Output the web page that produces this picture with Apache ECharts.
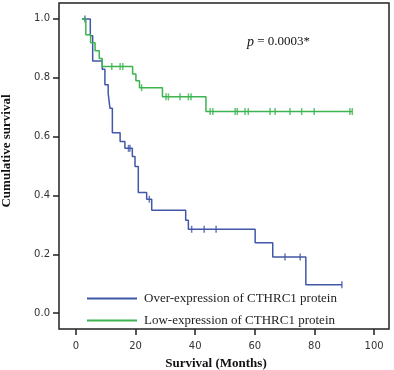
<!DOCTYPE html>
<html>
<head>
<meta charset="utf-8">
<script src="https://cdn.jsdelivr.net/npm/echarts@6/dist/echarts.min.js"></script>
<style>
  html, body { margin: 0; padding: 0; background: #fff; }
  #chart { width: 394px; height: 370px; }
</style>
</head>
<body>
<div id="chart"></div>
<script>
// Kaplan-Meier steps: [month, survival after the event]
var overSteps = [
  [2, 1.0], [4.8, 0.943], [5.6, 0.857], [8.8, 0.829], [9.7, 0.776],
  [10.8, 0.747], [11.4, 0.696], [12.2, 0.613], [14.8, 0.583], [16.4, 0.56],
  [18.9, 0.532], [19.8, 0.498], [20.9, 0.41], [23.7, 0.387], [25.4, 0.35],
  [36.8, 0.316], [37.7, 0.285], [60.1, 0.239], [66.0, 0.191], [77.1, 0.096],
  [89.2, 0.096]
];
var overCensored = [
  [3, 1.0], [17.6, 0.56], [18.1, 0.56], [24.6, 0.387], [38.8, 0.285],
  [43, 0.285], [47, 0.285], [70.1, 0.191], [75.2, 0.191], [89.2, 0.096]
];
var lowSteps = [
  [2, 1.0], [3.3, 0.946], [4.9, 0.919], [6.4, 0.892], [7.8, 0.865],
  [8.8, 0.838], [19.0, 0.813], [20.1, 0.79], [21.3, 0.766], [29.0, 0.735],
  [43.6, 0.685], [92.7, 0.685]
];
var lowCensored = [
  [12.0, 0.838], [14.8, 0.838], [15.7, 0.838], [22.0, 0.766],
  [30.2, 0.735], [31.0, 0.735], [34.9, 0.735], [37.7, 0.735], [38.6, 0.735],
  [45.0, 0.685], [45.9, 0.685], [53.4, 0.685], [54.1, 0.685], [56.7, 0.685],
  [57.8, 0.685], [65.1, 0.685], [66.8, 0.685], [71.8, 0.685], [75.7, 0.685],
  [79.9, 0.685], [91.9, 0.685], [92.7, 0.685]
];
var seriesNames = ["Over-expression of CTHRC1 protein", "Low-expression of CTHRC1 protein"];
var xTicks = [0, 20, 40, 60, 80, 100];
var yTicks = [0, 0.2, 0.4, 0.6, 0.8, 1.0];

var blue = "#4157a7";
var green = "#3cb44f";

var myChart = echarts.init(document.getElementById("chart"));
var option = {
  animation: false,
  grid: {
    left: 59,
    right: 5,
    top: 3,
    bottom: 41,
    outerBoundsMode: "none",
    containLabel: false,
    show: true,
    borderColor: "#222",
    borderWidth: 1.5
  },
  legend: {
    orient: "vertical",
    left: 82,
    top: 287,
    itemWidth: 50,
    itemHeight: 2,
    itemGap: 9,
    icon: "rect",
    data: seriesNames,
    textStyle: {
      fontFamily: "Liberation Serif",
      fontSize: 13,
      color: "#222",
      padding: [0, 0, 0, 2]
    }
  },
  xAxis: {
    type: "value",
    min: -5.7,
    max: 105,
    name: "Survival (Months)",
    nameLocation: "middle",
    nameGap: 28,
    nameTextStyle: {
      fontFamily: "Liberation Serif",
      fontWeight: "bold",
      fontSize: 13,
      color: "#111",
      padding: [0, 16, 0, 0]
    },
    splitLine: { show: false },
    axisLine: { show: false, onZero: false },
    axisTick: { show: true, length: 6, customValues: xTicks, lineStyle: { color: "#222", width: 1.5 } },
    axisLabel: {
      customValues: xTicks,
      margin: 12,
      fontFamily: "DejaVu Sans",
      fontSize: 10,
      color: "#333"
    }
  },
  yAxis: {
    type: "value",
    min: -0.054,
    max: 1.054,
    name: "Cumulative survival",
    nameLocation: "middle",
    nameGap: 46,
    nameTextStyle: {
      fontFamily: "Liberation Serif",
      fontWeight: "bold",
      fontSize: 13,
      color: "#111",
      padding: [0, 0, 0, 30]
    },
    splitLine: { show: false },
    axisLine: { show: false, onZero: false },
    axisTick: { show: true, length: 6, customValues: yTicks, lineStyle: { color: "#222", width: 1.5 } },
    axisLabel: {
      customValues: yTicks,
      margin: 9,
      fontFamily: "DejaVu Sans",
      fontSize: 10,
      color: "#333",
      formatter: function(v) {
        return v.toFixed(1);
      }
    }
  },
  graphic: [
    {
      type: "text",
      left: 247,
      top: 35,
      style: {
        text: "{i|p} = 0.0003*",
        fill: "#111",
        font: "13px 'Liberation Serif'",
        rich: {
          i: { fontStyle: "italic", fontFamily: "Liberation Serif", fontSize: 14 }
        }
      }
    }
  ],
  series: [
    {
      name: seriesNames[0],
      type: "line",
      step: "end",
      symbol: "none",
      data: overSteps,
      color: blue,
      lineStyle: { width: 1.5 }
    },
    {
      name: seriesNames[1],
      type: "line",
      step: "end",
      symbol: "none",
      data: lowSteps,
      color: green,
      lineStyle: { width: 1.5 }
    },
    {
      name: "over-censored",
      type: "scatter",
      symbol: "rect",
      symbolSize: [1.5, 7],
      data: overCensored,
      color: blue
    },
    {
      name: "low-censored",
      type: "scatter",
      symbol: "rect",
      symbolSize: [1.5, 7],
      data: lowCensored,
      color: green
    }
  ]
};
myChart.setOption(option);
window.addEventListener("resize", function() {
  myChart.resize();
});
</script>
</body>
</html>
